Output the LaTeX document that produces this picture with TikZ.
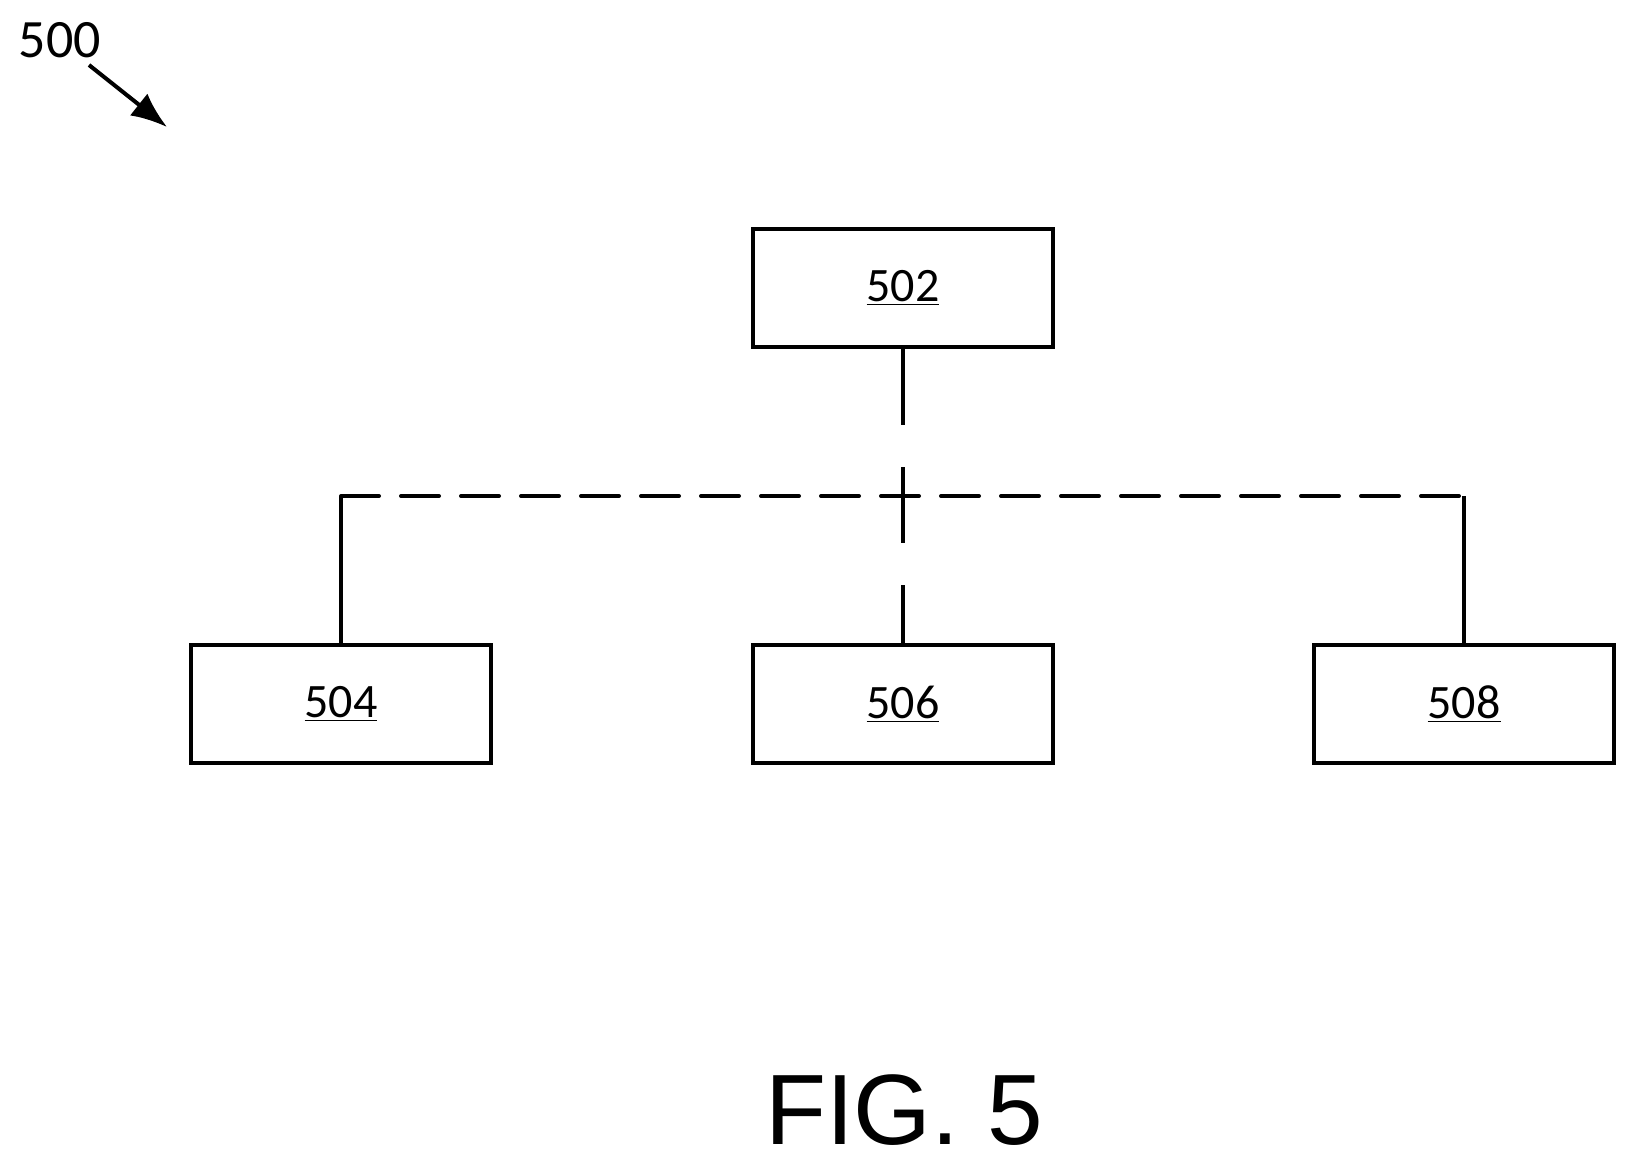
\documentclass[tikz,border=0pt]{standalone}
\usepackage{fontspec}
\setmainfont{Carlito}
\newfontfamily\figfont{Liberation Sans}
\usetikzlibrary{positioning,arrows.meta}
\tikzset{
  block/.style={draw, line width=2pt, minimum width=150pt, minimum height=59pt, inner sep=0pt, font=\fontsize{24}{28}\selectfont},
  link/.style={line width=2pt},
  hdash/.style={link, dash pattern=on 19pt off 11pt, line cap=round},
  vdash/.style={link, dash pattern=on 38pt off 21pt}
}
\begin{document}
\begin{tikzpicture}[x=0.5pt, y=-0.5pt]
  \useasboundingbox (0,0) rectangle (1630,1163);
  \node [block] (top) at (903,288) {\underline{502}};
  \node [block] (left) at (341,704) {\underline{504}};
  \node [block] (mid) at (903,704) {\underline{506}};
  \node [block] (right) at (1464,704) {\underline{508}};
  \coordinate (lc) at (341,496);
  \coordinate (rc) at (1464,496);
  % dashed bus
  \draw [link] (left.north) -- (lc);
  \draw [link] (right.north) -- (rc);
  \draw [hdash] (lc) -- (rc);
  \draw [vdash] (top.south) -- (mid.north);
  % reference label
  \node [font=\fontsize{27}{30}\selectfont] (num) at (60,40) {500};
  \coordinate (tip) at (167,127);
  \draw [line width=2pt, -{Latex[length=18pt,width=14pt]}] (89,65) -- (tip);
  \node [font=\figfont\fontsize{50}{56}\selectfont] (fig) at (904,1110) {FIG. 5};
\end{tikzpicture}
\end{document}
